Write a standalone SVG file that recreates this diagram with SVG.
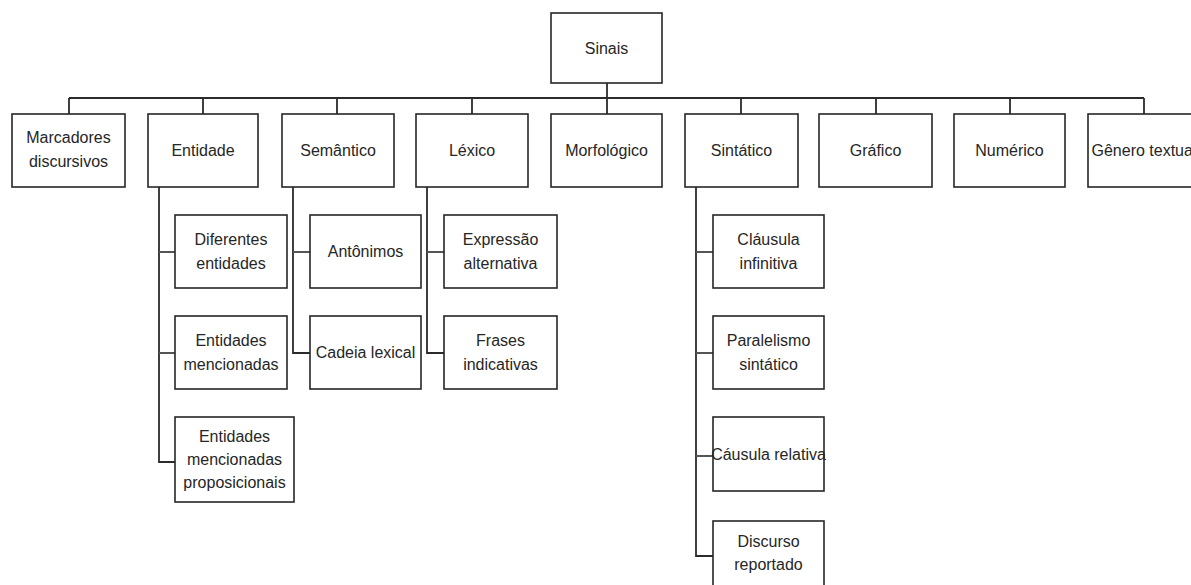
<svg xmlns="http://www.w3.org/2000/svg" width="1191" height="585" viewBox="0 0 1191 585">
  <style>
    .box { fill: #ffffff; stroke: #262626; stroke-width: 1.6; }
    .lbl { font-family: "Liberation Sans", Arial, sans-serif; font-size: 16px; fill: #262626; text-anchor: middle; }
    .link { fill: none; stroke: #2b2b2b; stroke-width: 1.8; }
    .stub { fill: none; stroke: #555555; stroke-width: 2; }
  </style>
  <rect width="1191" height="585" fill="#ffffff"/>

  <!-- connectors -->
  <g id="connectors">
    <!-- root to bus -->
    <path class="link" d="M607 83 V98" stroke-width="2.6"/>
    <path class="link" d="M69 98 H1144" stroke-width="1.6" stroke="#555"/>
    <path class="link" d="M203 98 H876" stroke-width="2.4"/>
    <!-- drops to first level -->
    <path class="link" d="M69 98 V114 M203 98 V114 M337 98 V114 M472 98 V114 M607 98 V114 M741 98 V114 M876 98 V114 M1010 98 V114 M1144 98 V114"/>
    <!-- Entidade children -->
    <path class="link" d="M159 187 V462 H175"/>
    <path class="stub" d="M159 252 H175 M159 353 H175"/>
    <!-- Semântico children -->
    <path class="link" d="M293 187 V353 H310"/>
    <path class="stub" d="M293 252 H310"/>
    <!-- Léxico children -->
    <path class="link" d="M427 187 V353 H444"/>
    <path class="stub" d="M427 252 H444"/>
    <!-- Sintático children -->
    <path class="link" d="M696 187 V556 H713"/>
    <path class="stub" d="M696 252 H713 M696 353 H713 M696 456 H713"/>
  </g>

  <!-- root -->
  <g id="sinais">
    <rect class="box" x="551" y="13" width="111" height="70"/>
    <text class="lbl" x="606.5" y="54">Sinais</text>
  </g>

  <!-- first level -->
  <g id="marcadores">
    <rect class="box" x="12" y="114" width="113" height="73"/>
    <text class="lbl" x="68.5" y="143">Marcadores</text>
    <text class="lbl" x="68.5" y="167">discursivos</text>
  </g>
  <g id="entidade">
    <rect class="box" x="148" y="114" width="110" height="73"/>
    <text class="lbl" x="203" y="156">Entidade</text>
  </g>
  <g id="semantico">
    <rect class="box" x="282" y="114" width="112" height="73"/>
    <text class="lbl" x="338" y="156">Semântico</text>
  </g>
  <g id="lexico">
    <rect class="box" x="416" y="114" width="112" height="73"/>
    <text class="lbl" x="472" y="156">Léxico</text>
  </g>
  <g id="morfologico">
    <rect class="box" x="551" y="114" width="111" height="73"/>
    <text class="lbl" x="606.5" y="156">Morfológico</text>
  </g>
  <g id="sintatico">
    <rect class="box" x="685" y="114" width="113" height="73"/>
    <text class="lbl" x="741.5" y="156">Sintático</text>
  </g>
  <g id="grafico">
    <rect class="box" x="819" y="114" width="113" height="73"/>
    <text class="lbl" x="875.5" y="156">Gráfico</text>
  </g>
  <g id="numerico">
    <rect class="box" x="954" y="114" width="111" height="73"/>
    <text class="lbl" x="1009.5" y="156">Numérico</text>
  </g>
  <g id="genero-textual">
    <rect class="box" x="1088" y="114" width="112" height="73"/>
    <text class="lbl" x="1144" y="156">Gênero textual</text>
  </g>

  <!-- Entidade children -->
  <g id="diferentes-entidades">
    <rect class="box" x="175" y="215" width="112" height="73"/>
    <text class="lbl" x="231" y="245">Diferentes</text>
    <text class="lbl" x="231" y="269">entidades</text>
  </g>
  <g id="entidades-mencionadas">
    <rect class="box" x="175" y="316" width="112" height="73"/>
    <text class="lbl" x="231" y="346">Entidades</text>
    <text class="lbl" x="231" y="370">mencionadas</text>
  </g>
  <g id="entidades-proposicionais">
    <rect class="box" x="175" y="417" width="119" height="85"/>
    <text class="lbl" x="234.5" y="442">Entidades</text>
    <text class="lbl" x="234.5" y="465">mencionadas</text>
    <text class="lbl" x="234.5" y="488">proposicionais</text>
  </g>

  <!-- Semântico children -->
  <g id="antonimos">
    <rect class="box" x="310" y="215" width="111" height="73"/>
    <text class="lbl" x="365.5" y="257">Antônimos</text>
  </g>
  <g id="cadeia-lexical">
    <rect class="box" x="310" y="316" width="111" height="73"/>
    <text class="lbl" x="365.5" y="358">Cadeia lexical</text>
  </g>

  <!-- Léxico children -->
  <g id="expressao-alternativa">
    <rect class="box" x="444" y="215" width="113" height="73"/>
    <text class="lbl" x="500.5" y="245">Expressão</text>
    <text class="lbl" x="500.5" y="269">alternativa</text>
  </g>
  <g id="frases-indicativas">
    <rect class="box" x="444" y="316" width="113" height="73"/>
    <text class="lbl" x="500.5" y="346">Frases</text>
    <text class="lbl" x="500.5" y="370">indicativas</text>
  </g>

  <!-- Sintático children -->
  <g id="clausula-infinitiva">
    <rect class="box" x="713" y="215" width="111" height="73"/>
    <text class="lbl" x="768.5" y="245">Cláusula</text>
    <text class="lbl" x="768.5" y="269">infinitiva</text>
  </g>
  <g id="paralelismo-sintatico">
    <rect class="box" x="713" y="316" width="111" height="73"/>
    <text class="lbl" x="768.5" y="346">Paralelismo</text>
    <text class="lbl" x="768.5" y="370">sintático</text>
  </g>
  <g id="clausula-relativa">
    <rect class="box" x="713" y="417" width="111" height="74"/>
    <text class="lbl" x="768.5" y="460">Cáusula relativa</text>
  </g>
  <g id="discurso-reportado">
    <rect class="box" x="713" y="521" width="111" height="74"/>
    <text class="lbl" x="768.5" y="547">Discurso</text>
    <text class="lbl" x="768.5" y="570">reportado</text>
  </g>
</svg>
